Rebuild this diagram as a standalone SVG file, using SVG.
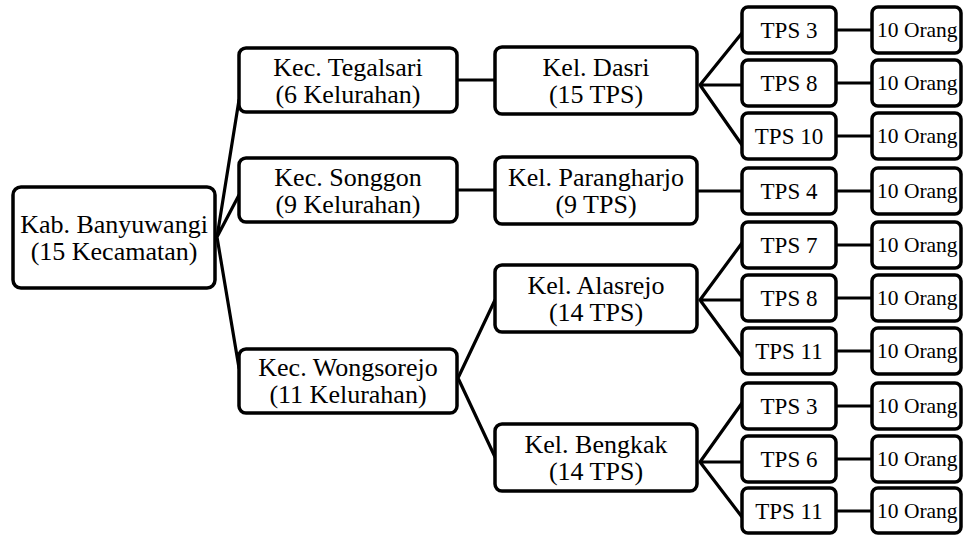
<svg xmlns="http://www.w3.org/2000/svg" width="963" height="535" viewBox="0 0 963 535">
<style>
.box{fill:#fff;stroke:#000;stroke-width:3.5}
.t{font-family:"Liberation Serif","Times New Roman",serif;fill:#000;text-anchor:middle}
.big{font-size:26px}
.tps{font-size:23px}
.org{font-size:21.5px;text-anchor:start}
.c{stroke:#000;stroke-width:3.2;fill:none;stroke-linecap:round}
</style>
<rect width="963" height="535" fill="#fff"/>
<g id="connectors">
<path class="c" d="M217,237 L239,100 M217,237 L239,195 M217,237 L239,368"/>
<path class="c" d="M457,80 L495,80 M457,190 L495,190"/>
<path class="c" d="M458,378 L495,300 M458,378 L495,457"/>
<path class="c" d="M700,85 L742,33 M700,85 L742,85 M700,85 L742,145"/>
<path class="c" d="M697,191 L742,191"/>
<path class="c" d="M700,300 L742,243 M700,300 L742,300 M700,300 L742,357"/>
<path class="c" d="M700,462 L742,403 M700,462 L742,462 M700,462 L742,517"/>
<path class="c" d="M836,30 L872,30 M836,83 L872,83 M836,136 L872,136 M836,191 L872,191 M836,245 L872,245 M836,298 L872,298 M836,351 L872,351 M836,406 L872,406 M836,459 L872,459 M836,511 L872,511"/>
</g>
<g id="kab">
<rect class="box" x="13" y="187" width="202" height="101" rx="8"/>
<text class="t big" x="114" y="233">Kab. Banyuwangi</text>
<text class="t big" x="114" y="260">(15 Kecamatan)</text>
</g>
<g id="kec-tegalsari">
<rect class="box" x="239" y="48" width="218" height="64" rx="7"/>
<text class="t big" x="348" y="76">Kec. Tegalsari</text>
<text class="t big" x="348" y="103">(6 Kelurahan)</text>
</g>
<g id="kec-songgon">
<rect class="box" x="239" y="158" width="218" height="64" rx="7"/>
<text class="t big" x="348" y="186">Kec. Songgon</text>
<text class="t big" x="348" y="213">(9 Kelurahan)</text>
</g>
<g id="kec-wongsorejo">
<rect class="box" x="239" y="349" width="218" height="64" rx="7"/>
<text class="t big" x="348" y="376">Kec. Wongsorejo</text>
<text class="t big" x="348" y="403">(11 Kelurahan)</text>
</g>
<g id="kel-dasri">
<rect class="box" x="495" y="47" width="202" height="67" rx="7"/>
<text class="t big" x="596" y="76">Kel. Dasri</text>
<text class="t big" x="596" y="103">(15 TPS)</text>
</g>
<g id="kel-parangharjo">
<rect class="box" x="495" y="157" width="202" height="67" rx="7"/>
<text class="t big" x="596" y="186">Kel. Parangharjo</text>
<text class="t big" x="596" y="213">(9 TPS)</text>
</g>
<g id="kel-alasrejo">
<rect class="box" x="495" y="265" width="202" height="67" rx="7"/>
<text class="t big" x="596" y="294">Kel. Alasrejo</text>
<text class="t big" x="596" y="321">(14 TPS)</text>
</g>
<g id="kel-bengkak">
<rect class="box" x="495" y="424" width="202" height="67" rx="7"/>
<text class="t big" x="596" y="453">Kel. Bengkak</text>
<text class="t big" x="596" y="480">(14 TPS)</text>
</g>
<g id="tps-dasri-3"><rect class="box" x="742" y="7" width="94" height="46" rx="6"/><text class="t tps" x="789" y="38">TPS 3</text></g>
<g id="tps-dasri-8"><rect class="box" x="742" y="60" width="94" height="46" rx="6"/><text class="t tps" x="789" y="91">TPS 8</text></g>
<g id="tps-dasri-10"><rect class="box" x="742" y="113" width="94" height="46" rx="6"/><text class="t tps" x="789" y="144">TPS 10</text></g>
<g id="tps-parangharjo-4"><rect class="box" x="742" y="168" width="94" height="46" rx="6"/><text class="t tps" x="789" y="199">TPS 4</text></g>
<g id="tps-alasrejo-7"><rect class="box" x="742" y="222" width="94" height="46" rx="6"/><text class="t tps" x="789" y="253">TPS 7</text></g>
<g id="tps-alasrejo-8"><rect class="box" x="742" y="275" width="94" height="46" rx="6"/><text class="t tps" x="789" y="306">TPS 8</text></g>
<g id="tps-alasrejo-11"><rect class="box" x="742" y="328" width="94" height="46" rx="6"/><text class="t tps" x="789" y="359">TPS 11</text></g>
<g id="tps-bengkak-3"><rect class="box" x="742" y="383" width="94" height="46" rx="6"/><text class="t tps" x="789" y="414">TPS 3</text></g>
<g id="tps-bengkak-6"><rect class="box" x="742" y="436" width="94" height="46" rx="6"/><text class="t tps" x="789" y="467">TPS 6</text></g>
<g id="tps-bengkak-11"><rect class="box" x="742" y="488" width="94" height="45" rx="6"/><text class="t tps" x="789" y="519">TPS 11</text></g>
<g id="org-1"><rect class="box" x="872" y="7" width="89" height="46" rx="6"/><text class="t org" x="877" y="37">10 Orang</text></g>
<g id="org-2"><rect class="box" x="872" y="60" width="89" height="46" rx="6"/><text class="t org" x="877" y="90">10 Orang</text></g>
<g id="org-3"><rect class="box" x="872" y="113" width="89" height="46" rx="6"/><text class="t org" x="877" y="143">10 Orang</text></g>
<g id="org-4"><rect class="box" x="872" y="168" width="89" height="46" rx="6"/><text class="t org" x="877" y="198">10 Orang</text></g>
<g id="org-5"><rect class="box" x="872" y="222" width="89" height="46" rx="6"/><text class="t org" x="877" y="252">10 Orang</text></g>
<g id="org-6"><rect class="box" x="872" y="275" width="89" height="46" rx="6"/><text class="t org" x="877" y="305">10 Orang</text></g>
<g id="org-7"><rect class="box" x="872" y="328" width="89" height="46" rx="6"/><text class="t org" x="877" y="358">10 Orang</text></g>
<g id="org-8"><rect class="box" x="872" y="383" width="89" height="46" rx="6"/><text class="t org" x="877" y="413">10 Orang</text></g>
<g id="org-9"><rect class="box" x="872" y="436" width="89" height="46" rx="6"/><text class="t org" x="877" y="466">10 Orang</text></g>
<g id="org-10"><rect class="box" x="872" y="488" width="89" height="45" rx="6"/><text class="t org" x="877" y="518">10 Orang</text></g>
</svg>
